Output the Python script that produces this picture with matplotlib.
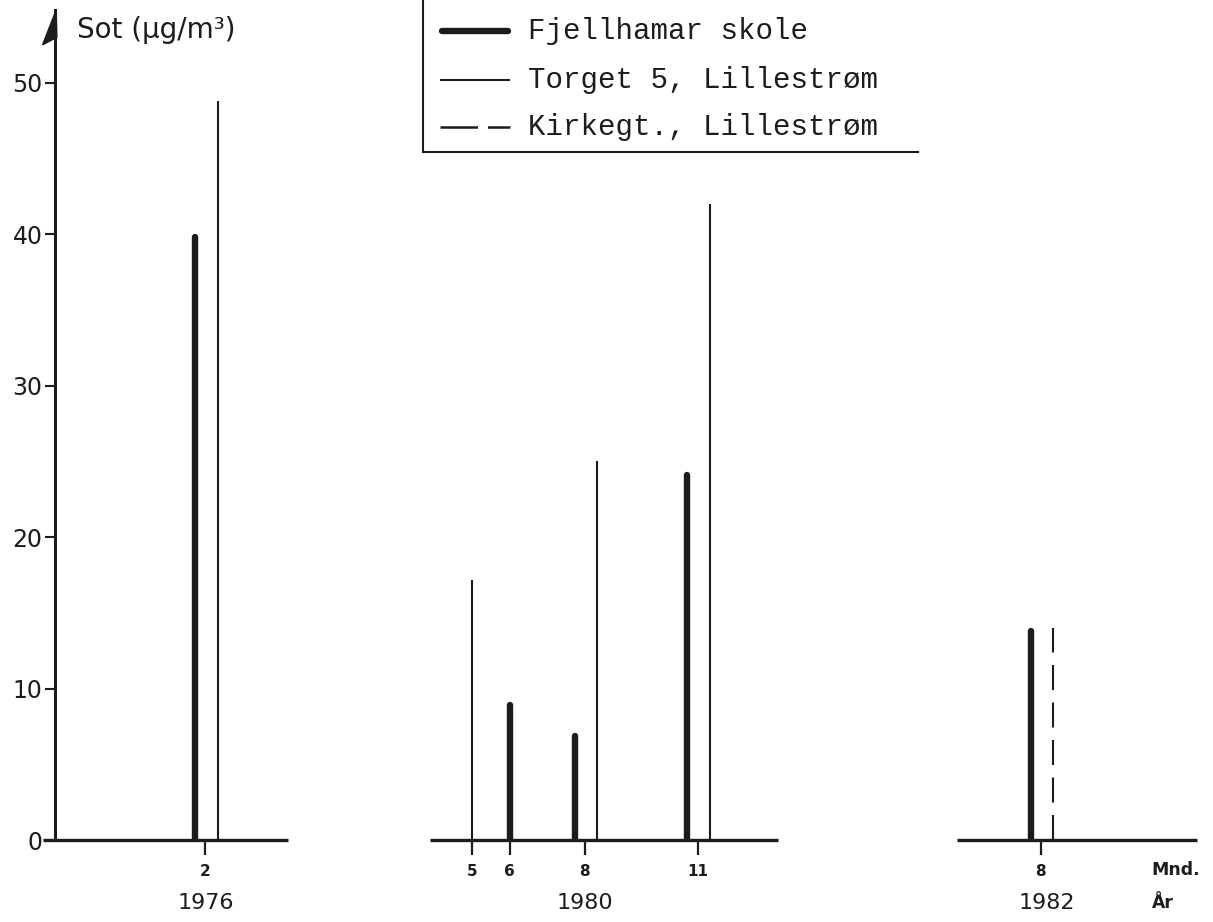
import matplotlib
matplotlib.use("Agg")
import matplotlib.pyplot as plt
from matplotlib.lines import Line2D
from matplotlib.patches import Polygon

# ---- data -------------------------------------------------------------
years = ["1976", "1980", "1982"]

fjell_year = ["1976", "1980", "1980", "1980", "1982"]
fjell_month = [2, 6, 8, 11, 8]
fjell_value = [40.0, 9.1, 7.1, 24.3, 14.0]

torget_year = ["1976", "1980", "1980", "1980"]
torget_month = [2, 5, 8, 11]
torget_value = [48.8, 17.2, 25.0, 42.0]

kirke_year = ["1982"]
kirke_month = [8]
kirke_value = [14.0]

month_ticks = {"1976": [2], "1980": [5, 6, 8, 11], "1982": [8]}
y_ticks = [0, 10, 20, 30, 40, 50]

series_names = ["Fjellhamar skole", "Torget 5, Lillestrøm", "Kirkegt., Lillestrøm"]

# ---- layout -----------------------------------------------------------
W, H = 1213, 922
fig = plt.figure(figsize=(W / 100, H / 100), dpi=100)
fig.patch.set_facecolor("white")

# axes box in pixels (from top-left)
ax_l, ax_r, ax_b, ax_t = 55, 1200, 840, 10
ax = fig.add_axes([ax_l / W, 1 - ax_b / H, (ax_r - ax_l) / W, (ax_b - ax_t) / H])
px_per_unit_y = 15.14
px_per_month = 37.6
ax.set_ylim(0, (ax_b - ax_t) / px_per_unit_y)
ax.set_xlim(0, (ax_r - ax_l) / px_per_month)

# month axis is broken into one block per year
group_offset = {"1976": 2.0, "1980": 6.09, "1982": 18.22}
baseline_span = {"1976": (-2.32, 4.2), "1980": (3.88, 13.14), "1982": (5.77, 12.15)}
year_label_month = {"1976": 2, "1980": 8, "1982": 8.15}

ink = "#1c1c1c"
sans = ["DejaVu Sans"]
mono = ["Liberation Mono"]

for s in ["top", "right", "bottom"]:
    ax.spines[s].set_visible(False)
ax.spines["left"].set_linewidth(2.2)
ax.spines["left"].set_color(ink)

ax.set_yticks(y_ticks)
ax.set_yticklabels([str(v) for v in y_ticks], fontsize=17, family=sans, color=ink)
ax.tick_params(axis="y", direction="out", length=7, width=1.5, pad=2, colors=ink)

# positions that carry two measurements get their bars split left/right
def key(y, m):
    return (y, m)

pairs = set(key(y, m) for y, m in zip(fjell_year, fjell_month)) & (
    set(key(y, m) for y, m in zip(torget_year, torget_month))
    | set(key(y, m) for y, m in zip(kirke_year, kirke_month))
)

def xpos(y, m, side):
    base = group_offset[y] + m
    if key(y, m) in pairs:
        return base + (-0.27 if side == "left" else 0.33)
    return base

# baselines
for y in years:
    a, b = baseline_span[y]
    ax.plot([group_offset[y] + a, group_offset[y] + b], [0, 0], color=ink,
            lw=2.4, solid_capstyle="butt", clip_on=False, zorder=3)

# bars
for y, m, v in zip(fjell_year, fjell_month, fjell_value):
    x = xpos(y, m, "left")
    ax.plot([x, x], [0, v - 0.2], color=ink, lw=4.6, solid_capstyle="round", zorder=4)
for y, m, v in zip(torget_year, torget_month, torget_value):
    x = xpos(y, m, "right")
    ax.plot([x, x], [0, v], color=ink, lw=1.5, solid_capstyle="butt", zorder=4)
for y, m, v in zip(kirke_year, kirke_month, kirke_value):
    x = xpos(y, m, "right")
    ax.plot([x, x], [0, v], color=ink, lw=1.5, dashes=(12, 6),
            dash_capstyle="butt", zorder=4)

# month ticks
xt, xl = [], []
for y in years:
    for m in month_ticks[y]:
        xt.append(group_offset[y] + m)
        xl.append(str(m))
ax.set_xticks(xt)
ax.set_xticklabels(xl, fontsize=11, fontweight="bold", family=sans, color=ink)
ax.tick_params(axis="x", direction="out", length=11, width=1.6, pad=6, colors=ink)

# year labels
y_year = -(903 - ax_b) / px_per_unit_y
for y in years:
    ax.text(group_offset[y] + year_label_month[y], y_year, y, ha="center",
            va="center", fontsize=16, family=sans, color=ink, clip_on=False)

ax.text((1176 - ax_l) / px_per_month, -(870 - ax_b) / px_per_unit_y, "Mnd.",
        ha="center", va="center", fontsize=12.5, fontweight="bold", family=sans,
        color=ink, clip_on=False)
ax.text((1163 - ax_l) / px_per_month, -(903 - ax_b) / px_per_unit_y, "År",
        ha="center", va="center", fontsize=12.5, fontweight="bold", family=sans,
        color=ink, clip_on=False)

# y-axis title and arrowhead
ax.text((77 - ax_l) / px_per_month, (ax_b - 30) / px_per_unit_y, "Sot (μg/m³)",
        ha="left", va="center", fontsize=20, family=sans, color=ink, clip_on=False)
ytop = (ax_b - ax_t) / px_per_unit_y
head = Polygon([(0.03, ytop), (-0.33, ytop - 2.3), (0.05, ytop - 1.8)],
               closed=True, facecolor=ink, edgecolor=ink, lw=1, clip_on=False, zorder=5)
ax.add_patch(head)

# legend: box open at top and right
def fx(px):
    return px / W

def fy(py):
    return 1 - py / H

fig.add_artist(Line2D([fx(423), fx(423)], [fy(0), fy(152)], color=ink, lw=1.5))
fig.add_artist(Line2D([fx(423), fx(918)], [fy(152), fy(152)], color=ink, lw=1.5))
rows = [31, 80, 127]
styles = [dict(lw=4.6, solid_capstyle="round"),
          dict(lw=1.5, solid_capstyle="butt"),
          dict(lw=1.8, dashes=(15, 4), dash_capstyle="butt")]
for ry, st, name in zip(rows, styles, series_names):
    x0, x1 = (442, 508) if st["lw"] > 4 else (440, 510)
    fig.add_artist(Line2D([fx(x0), fx(x1)], [fy(ry), fy(ry)], color=ink, **st))
    fig.text(fx(528), fy(ry), name, ha="left", va="center", fontsize=21,
             family=mono, color=ink)

fig.savefig("out.png", dpi=100, facecolor="white")
